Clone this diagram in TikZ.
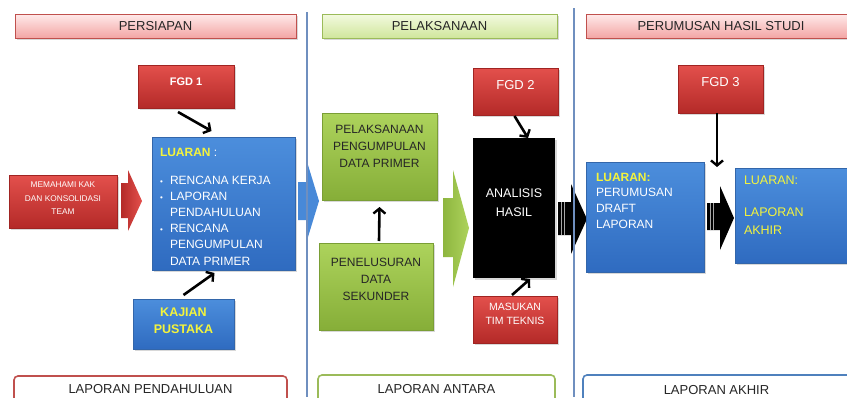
\documentclass[tikz,border=0pt]{standalone}
\usepackage{fontspec}
\setmainfont{Liberation Sans}
\usetikzlibrary{arrows.meta,shadows}
\definecolor{redT}{HTML}{E3504C}
\definecolor{redB}{HTML}{B42A28}
\definecolor{redD}{HTML}{A02422}
\definecolor{bluT}{HTML}{4C8EDC}
\definecolor{bluB}{HTML}{2F6BC0}
\definecolor{bluD}{HTML}{3366AA}
\definecolor{grnT}{HTML}{ADD35C}
\definecolor{grnB}{HTML}{86AE38}
\definecolor{grnD}{HTML}{7A9E35}
\definecolor{pinkT}{HTML}{FFEAEA}
\definecolor{pinkB}{HTML}{F3A5A4}
\definecolor{pinkD}{HTML}{C0504D}
\definecolor{lgT}{HTML}{F3FAE0}
\definecolor{lgB}{HTML}{D0E69C}
\definecolor{lgD}{HTML}{9BBB59}
\definecolor{sepc}{HTML}{6F8FBF}
\definecolor{yel}{HTML}{F4F43C}
\definecolor{dkt}{HTML}{262626}
\definecolor{outB}{HTML}{4F81BD}
\newcommand\mkbox[6]{\node[#2, minimum width={#5-#3}, minimum height={#6-#4}] (#1) at ({(#3+#5)/2},{(#4+#6)/2}) {};}
\begin{document}
\begin{tikzpicture}[x=1pt,y=-1pt,
  every node/.style={inner sep=0pt, outer sep=0pt},
  shd/.style={drop shadow={shadow xshift=1.5pt, shadow yshift=-1.5pt, opacity=0.3}},
  redbox/.style={shd, top color=redT, bottom color=redB, draw=redD, line width=0.4pt},
  blubox/.style={shd, top color=bluT, bottom color=bluB, draw=bluD, line width=0.4pt},
  grnbox/.style={shd, top color=grnT, bottom color=grnB, draw=grnD, line width=0.4pt},
  blkbox/.style={shd, fill=black},
  hdrred/.style={shd, top color=pinkT, bottom color=pinkB, draw=pinkD, line width=0.6pt},
  hdrgrn/.style={shd, top color=lgT, bottom color=lgB, draw=lgD, line width=0.6pt},
  outbox/.style={fill=white, rounded corners=4pt, line width=1.6pt},
  conn/.style={draw=black, line width=2.6pt, -{Straight Barb[length=5pt,width=12pt,line width=2.4pt]}},
  hdrtxt/.style={font=\fontsize{13}{15}\selectfont, text=black!85},
  btxt/.style={font=\fontsize{12}{16}\selectfont, text=white},
  gtxt/.style={font=\fontsize{12}{17}\selectfont, text=dkt, align=center},
  sep/.style={draw=sepc, line width=1.1pt}
]
\clip (0,0) rectangle (847,397);
\fill[white] (0,0) rectangle (847,397);

% headers
\mkbox{h1}{hdrred}{15}{14}{296}{38}
\mkbox{h2}{hdrgrn}{322}{14}{557}{38}
\mkbox{h3}{hdrred}{586}{14}{870}{38}
\node[hdrtxt] (h1t) at (155.5,26) {PERSIAPAN};
\node[hdrtxt] (h2t) at (439.5,26) {PELAKSANAAN};
\node[hdrtxt] (h3t) at (721,26) {PERUMUSAN HASIL STUDI};

% bottom boxes
\mkbox{b1}{outbox, draw=pinkD}{14}{376}{287}{410}
\mkbox{b2}{outbox, draw=lgD}{318}{375}{555}{410}
\mkbox{b3}{outbox, draw=outB}{583}{375}{870}{410}
\node[hdrtxt] (b1t) at (150.5,389) {LAPORAN PENDAHULUAN};
\node[hdrtxt] (b2t) at (436.5,389) {LAPORAN ANTARA};
\node[hdrtxt] (b3t) at (716.5,390) {LAPORAN AKHIR};

% block arrows
\shade[left color=redB, right color=redT] (121,183) -- (128,183) -- (128,170) -- (142,201) -- (128,231) -- (128,218) -- (121,218) -- cycle;
\fill[bluT!85!bluB] (298,182) -- (308,182) -- (308,165) -- (319,201) -- (308,237) -- (308,220) -- (298,220) -- cycle;
\shade[left color=grnB!80!grnT, right color=grnT] (443,198) -- (453,198) -- (453,170) -- (469,228) -- (453,287) -- (453,257) -- (443,257) -- cycle;
\fill[black] (558,202) -- (571,202) -- (571,184) -- (587,219) -- (571,254) -- (571,235) -- (558,235) -- cycle;
\fill[black] (707,203) -- (720,203) -- (720,186) -- (734,218) -- (720,250) -- (720,230) -- (707,230) -- cycle;
\draw[gray!70, line width=0.8pt] (561,202) -- (561,235) (564,202) -- (564,235);
\draw[gray!70, line width=0.8pt] (710,203) -- (710,230) (713,203) -- (713,230);

% separators
\draw[sep] (307,12) -- (307,397);
\draw[sep] (574,8) -- (574,397);

% PERSIAPAN
\mkbox{fgd1}{redbox}{138}{65}{234}{108}
\node[font=\fontsize{11}{13}\selectfont\bfseries, text=white] (fgd1t) at (186,82) {FGD 1};
\mkbox{mem}{redbox}{9}{175}{117}{228}
\node[font=\fontsize{8.3}{13.5}\selectfont, text=white, align=center] (memt) at (63,198.5) {MEMAHAMI KAK\\DAN KONSOLIDASI\\TEAM};
\mkbox{lu1}{blubox}{152}{137}{295}{270}
\node[btxt, anchor=west] (lu1h) at (160,152) {{\color{yel}\bfseries LUARAN} :};
\node[font=\fontsize{12}{16.2}\selectfont, text=white, align=left, anchor=west] (lu1t) at (160,220.5)
 {\makebox[10pt][l]{\fontsize{8}{8}\selectfont•}RENCANA KERJA\\
  \makebox[10pt][l]{\fontsize{8}{8}\selectfont•}LAPORAN\\
  \hspace*{10pt}PENDAHULUAN\\
  \makebox[10pt][l]{\fontsize{8}{8}\selectfont•}RENCANA\\
  \hspace*{10pt}PENGUMPULAN\\
  \hspace*{10pt}DATA PRIMER};
\mkbox{kaj}{blubox}{133}{299}{234}{349}
\node[font=\fontsize{12.5}{17}\selectfont\bfseries, text=yel, align=center] (kajt) at (183.5,320.5) {KAJIAN\\PUSTAKA};

% PELAKSANAAN
\mkbox{gp}{grnbox}{322}{113}{437}{200}
\node[gtxt] (gpt) at (379.5,146) {PELAKSANAAN\\PENGUMPULAN\\DATA PRIMER};
\mkbox{sek}{grnbox}{319}{243}{433}{330}
\node[gtxt] (sekt) at (376,279) {PENELUSURAN\\DATA\\SEKUNDER};
\mkbox{fgd2}{redbox}{473}{68}{558}{115}
\node[font=\fontsize{13}{15}\selectfont, text=white] (fgd2t) at (515.5,85) {FGD 2};
\mkbox{ana}{blkbox}{473}{138}{555}{278}
\node[font=\fontsize{12.5}{19}\selectfont, text=white, align=center] (anat) at (514,202.5) {ANALISIS\\HASIL};
\mkbox{mas}{redbox}{473}{296}{557}{343}
\node[font=\fontsize{10.5}{14}\selectfont, text=white, align=center] (mast) at (515,314) {MASUKAN\\TIM TEKNIS};

% PERUMUSAN
\mkbox{fgd3}{redbox}{678}{65}{763}{113}
\node[font=\fontsize{13}{15}\selectfont, text=white] (fgd3t) at (720.5,82) {FGD 3};
\mkbox{lu2}{blubox}{586}{162}{704}{272}
\node[font=\fontsize{12}{15.7}\selectfont, text=white, align=left, anchor=west] (lu2t) at (596,200.5)
 {{\color{yel}\bfseries LUARAN:}\\PERUMUSAN\\DRAFT\\LAPORAN};
\mkbox{lu3}{blubox}{735}{168}{870}{263}
\node[font=\fontsize{12.5}{15}\selectfont, text=yel, anchor=west] (lu3h) at (744,180) {LUARAN:};
\node[font=\fontsize{12.5}{18}\selectfont, text=yel, align=left, anchor=west] (lu3t) at (744,221) {LAPORAN\\AKHIR};

% connectors
\draw[conn] ([shift={(-8,4)}]fgd1.south) -- ([shift={(-12,-6)}]lu1.north);
\draw[conn] ([shift={(0,-4)}]kaj.north) -- ([shift={(-9,3)}]lu1.south);
\draw[conn] ([shift={(3,-2)}]sek.north) -- ([shift={(0,7)}]gp.south);
\draw[conn] ([shift={(-1,1)}]fgd2.south) -- ([shift={(14,0)}]ana.north);
\draw[conn] ([shift={(-3,-1)}]mas.north) -- ([shift={(16,1)}]ana.south);
\coordinate (f3end) at (717,167);
\draw[conn] ([shift={(-3.5,0)}]fgd3.south) -- (f3end);
\end{tikzpicture}
\end{document}
